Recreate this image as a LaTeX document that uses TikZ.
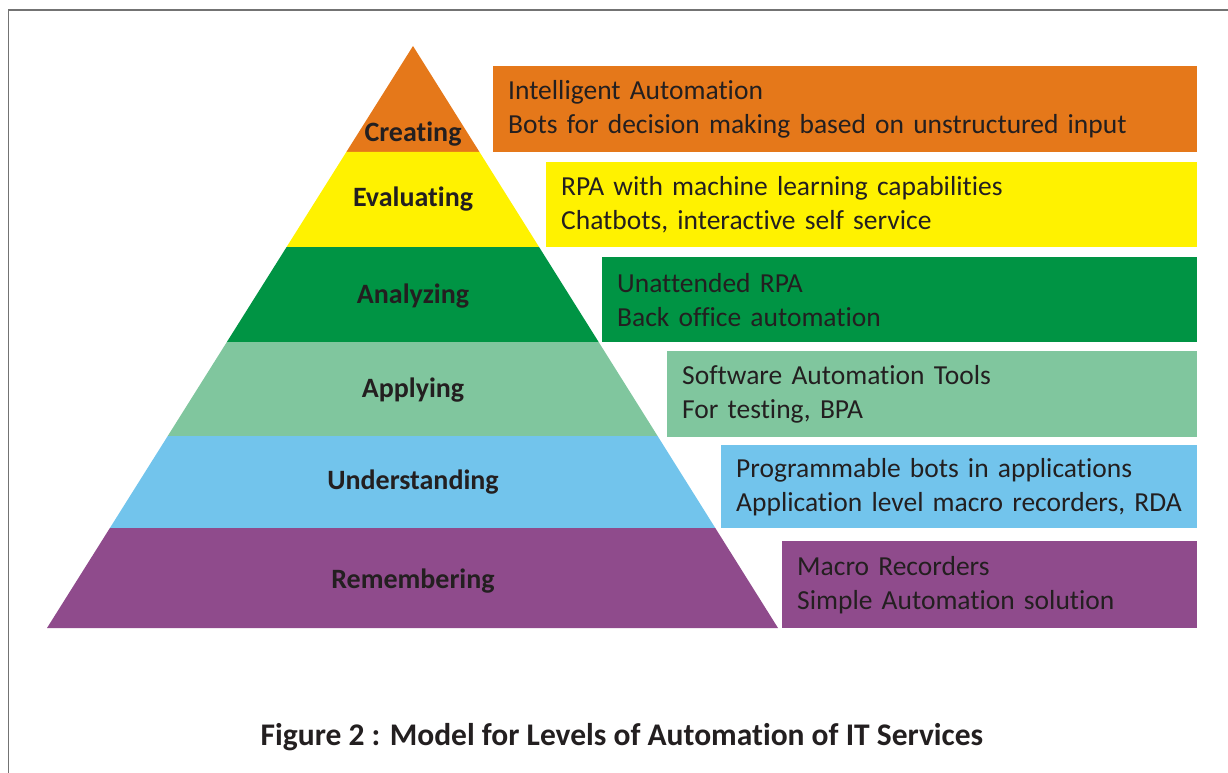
\documentclass[tikz,border=0pt]{standalone}
\usepackage{fontspec}
\setmainfont{Carlito}[Ligatures=NoCommon]
\usetikzlibrary{calc}

\definecolor{creatingc}{RGB}{229,120,26}
\definecolor{evaluatingc}{RGB}{255,242,0}
\definecolor{analyzingc}{RGB}{0,148,68}
\definecolor{applyingc}{RGB}{128,198,158}
\definecolor{understandingc}{RGB}{114,196,236}
\definecolor{rememberingc}{RGB}{143,75,140}
\definecolor{inkc}{RGB}{35,31,32}

\tikzset{
  level/.style={font=\fontsize{28}{32}\selectfont\bfseries, text=inkc},
  levelbox/.style={fill=#1, anchor=north west, align=left, text=inkc,
    inner xsep=15pt, inner ysep=0pt, font=\fontsize{27.5}{34}\selectfont},
}

\begin{document}
\begin{tikzpicture}[x=1pt,y=-1pt]
  \useasboundingbox (0,0) rectangle (1228,773);
  \draw[gray!110, line width=1.5pt] (8.5,773) -- (8.5,10) -- (1228,10);

  % pyramid corners
  \coordinate (apex) at (413,46);
  \coordinate (bl) at (47,628);
  \coordinate (br) at (778,628);

  % bands, top to bottom (fraction of the height from the apex)
  \fill[creatingc] (apex) -- ($(apex)!0.1821!(br)$) -- ($(apex)!0.1821!(bl)$) -- cycle;
  \fill[evaluatingc] ($(apex)!0.1821!(bl)$) -- ($(apex)!0.1821!(br)$) -- ($(apex)!0.3454!(br)$) -- ($(apex)!0.3454!(bl)$) -- cycle;
  \fill[analyzingc] ($(apex)!0.3454!(bl)$) -- ($(apex)!0.3454!(br)$) -- ($(apex)!0.5086!(br)$) -- ($(apex)!0.5086!(bl)$) -- cycle;
  \fill[applyingc] ($(apex)!0.5086!(bl)$) -- ($(apex)!0.5086!(br)$) -- ($(apex)!0.6701!(br)$) -- ($(apex)!0.6701!(bl)$) -- cycle;
  \fill[understandingc] ($(apex)!0.6701!(bl)$) -- ($(apex)!0.6701!(br)$) -- ($(apex)!0.8282!(br)$) -- ($(apex)!0.8282!(bl)$) -- cycle;
  \fill[rememberingc] ($(apex)!0.8282!(bl)$) -- ($(apex)!0.8282!(br)$) -- (br) -- (bl) -- cycle;

  \node[level] (creating) at (413,134) {Creating};
  \node[level] (evaluating) at (413,199) {Evaluating};
  \node[level] (analyzing) at (413,296) {Analyzing};
  \node[level] (applying) at (413,390) {Applying};
  \node[level] (understanding) at (413,482) {Understanding};
  \node[level] (remembering) at (413,581) {Remembering};

  % what each level automates
  \node[levelbox=creatingc, text width=674pt, minimum height=86pt] (intelligent) at (493,66)
    {Intelligent Automation\\Bots for decision making based on unstructured input};
  \node[levelbox=evaluatingc, text width=621pt, minimum height=85pt] (rpaml) at (546,162)
    {RPA with machine learning capabilities\\Chatbots, interactive self service};
  \node[levelbox=analyzingc, text width=565pt, minimum height=85pt] (unattended) at (602,257)
    {Unattended RPA\\Back office automation};
  \node[levelbox=applyingc, text width=500pt, minimum height=86pt] (swtools) at (667,351)
    {Software Automation Tools\\For testing, BPA};
  \node[levelbox=understandingc, text width=446pt, minimum height=83pt] (progbots) at (721,445)
    {Programmable bots in applications\\Application level macro recorders, RDA};
  \node[levelbox=rememberingc, text width=385pt, minimum height=87pt] (macro) at (782,541)
    {Macro Recorders\\Simple Automation solution};

  \node[font=\fontsize{31.5}{34}\selectfont\bfseries, text=inkc] (caption) at (622,737)
    {Figure 2 : Model for Levels of Automation of IT Services};
\end{tikzpicture}
\end{document}
